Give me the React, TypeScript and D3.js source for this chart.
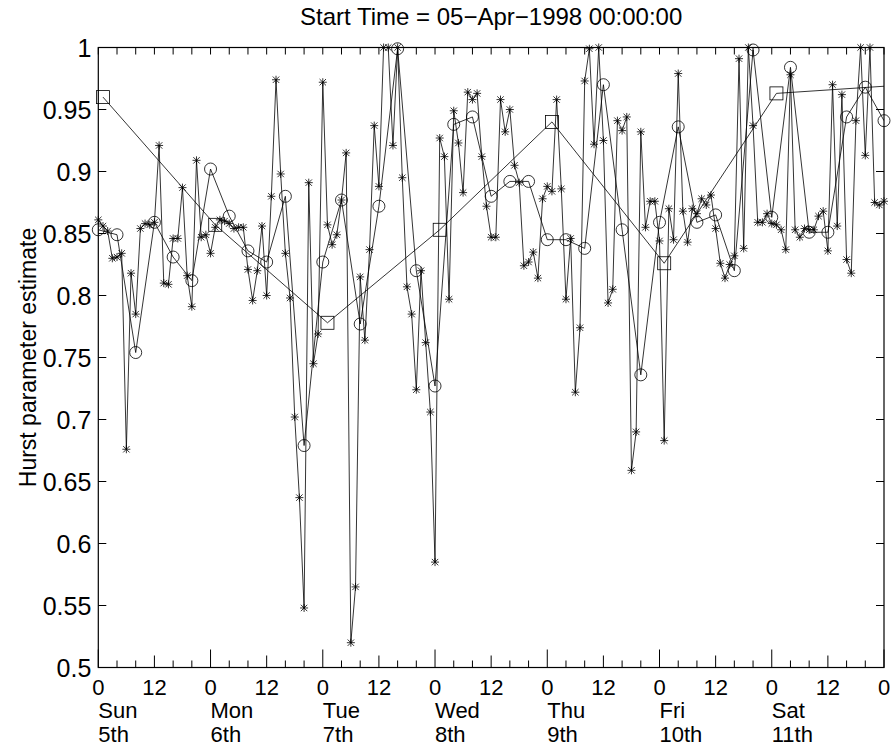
import React from 'react';
import * as d3 from 'd3';

// Hourly Hurst estimates (asterisks), hour 0 .. 168
const hourlyHurst = [
  0.861, 0.856, 0.852, 0.830, 0.831, 0.834, 0.676, 0.818, 0.785, 0.854,
  0.858, 0.857, 0.859, 0.921, 0.810, 0.809, 0.846, 0.846, 0.887, 0.816,
  0.791, 0.909, 0.847, 0.849, 0.834, 0.855, 0.861, 0.860, 0.858, 0.854,
  0.855, 0.855, 0.821, 0.796, 0.820, 0.856, 0.800, 0.880, 0.974, 0.898,
  0.834, 0.798, 0.702, 0.637, 0.548, 0.891, 0.745, 0.769, 0.972, 0.857,
  0.841, 0.849, 0.877, 0.915, 0.520, 0.565, 0.815, 0.764, 0.837, 0.937,
  0.888, 1.000, 1.000, 0.921, 1.000, 0.895, 0.807, 0.785, 0.724, 0.820,
  0.762, 0.706, 0.585, 0.927, 0.912, 0.797, 0.949, 0.923, 0.883, 0.964,
  0.958, 0.963, 0.912, 0.872, 0.847, 0.847, 0.958, 0.932, 0.950, 0.905,
  0.891, 0.824, 0.827, 0.835, 0.814, 0.878, 0.888, 0.884, 0.958, 0.886,
  0.797, 0.846, 0.722, 0.774, 0.973, 0.999, 0.922, 1.000, 0.925, 0.794,
  0.805, 0.941, 0.933, 0.944, 0.659, 0.690, 0.932, 0.855, 0.876, 0.876,
  0.844, 0.683, 0.870, 0.845, 0.979, 0.868, 0.843, 0.870, 0.866, 0.878,
  0.873, 0.881, 0.854, 0.826, 0.814, 0.825, 0.832, 0.991, 0.838, 1.000,
  0.937, 0.859, 0.859, 0.866, 0.858, 0.857, 0.853, 0.837, 0.978, 0.853,
  0.847, 0.854, 0.853, 0.853, 0.864, 0.868, 0.836, 0.970, 0.856, 0.962,
  0.829, 0.818, 0.941, 1.000, 0.913, 1.000, 0.875, 0.873, 0.876,
];
const hourlyStep = 1;

// 4-hour estimates (circles), hour 0, 4, ..., 168
const fourHourHurst = [
  0.853, 0.849, 0.754, 0.859, 0.831, 0.812, 0.902, 0.864, 0.836, 0.827,
  0.880, 0.679, 0.827, 0.877, 0.777, 0.872, 0.999, 0.820, 0.727, 0.938,
  0.944, 0.880, 0.892, 0.892, 0.845, 0.845, 0.838, 0.970, 0.853, 0.736,
  0.859, 0.936, 0.859, 0.865, 0.820, 0.998, 0.863, 0.984, 0.851, 0.851,
  0.944, 0.968, 0.941,
];
const fourHourStep = 4;

// Daily estimates (squares), hour 1, 25, ..., 169
const dailyHurst = [0.960, 0.857, 0.778, 0.853, 0.940, 0.826, 0.963, 0.969];
const dailyStart = 1;
const dailyStep = 24;

const yTicks = [0.5, 0.55, 0.6, 0.65, 0.7, 0.75, 0.8, 0.85, 0.9, 0.95, 1];
const yTickLabels = ['0.5', '0.55', '0.6', '0.65', '0.7', '0.75', '0.8', '0.85', '0.9', '0.95', '1'];
const dayNames = ['Sun', 'Mon', 'Tue', 'Wed', 'Thu', 'Fri', 'Sat'];
const dayDates = ['5th', '6th', '7th', '8th', '9th', '10th', '11th'];
const titleText = 'Start Time = 05\u2212Apr\u22121998 00:00:00';
const yLabelText = 'Hurst parameter estimate';

const W = 891;
const H = 746;
const left = 98.3;
const right = 884;
const top = 47.5;
const bottom = 667.5;
const FONT = '"Liberation Sans", Arial, Helvetica, sans-serif';

const x = d3.scaleLinear().domain([0, 168]).range([left, right]);
const y = d3.scaleLinear().domain([0.5, 1]).range([bottom, top]);

function starPath(cx: number, cy: number) {
  const s = 4;
  const d = 3.2;
  return `M${cx - s},${cy}H${cx + s}M${cx},${cy - s}V${cy + s}` +
    `M${cx - d},${cy - d}L${cx + d},${cy + d}M${cx - d},${cy + d}L${cx + d},${cy - d}`;
}

export default function App() {
  const hourly = hourlyHurst.map((v, i) => ({ h: i * hourlyStep, v }));
  const four = fourHourHurst.map((v, i) => ({ h: i * fourHourStep, v }));
  const daily = dailyHurst.map((v, i) => ({ h: dailyStart + i * dailyStep, v }));

  const line = d3.line<{ h: number; v: number }>().x((d) => x(d.h)).y((d) => y(d.v));
  const inDomain = (d: { h: number }) => d.h >= 0 && d.h <= 168;

  const xTicks4 = d3.range(0, 169, 4);
  const xTicks12 = d3.range(0, 169, 12);
  const stroke = '#000';
  const sw = 0.8;

  return (
    <svg width={W} height={H} style={{ position: 'absolute', left: 0, top: 0, background: '#fff' }}>
      <defs>
        <clipPath id="plotClip">
          <rect x={left} y={top} width={right - left} height={bottom - top} />
        </clipPath>
      </defs>
      <rect x={0} y={0} width={W} height={H} fill="#fff" />

      {/* series lines */}
      <g clipPath="url(#plotClip)" fill="none" stroke={stroke} strokeWidth={sw}>
        <path d={line(hourly) || ''} />
        <path d={line(four) || ''} />
        <path d={line(daily) || ''} />
      </g>

      {/* markers */}
      <g fill="none" stroke={stroke} strokeWidth={sw}>
        {hourly.filter(inDomain).map((d, i) => (
          <path key={'s' + i} d={starPath(x(d.h), y(d.v))} />
        ))}
        {four.filter(inDomain).map((d, i) => (
          <circle key={'c' + i} cx={x(d.h)} cy={y(d.v)} r={6} />
        ))}
        {daily.filter(inDomain).map((d, i) => (
          <rect key={'q' + i} x={x(d.h) - 6.5} y={y(d.v) - 6.5} width={13} height={13} />
        ))}
      </g>

      {/* axes box */}
      <rect x={left} y={top} width={right - left} height={bottom - top} fill="none" stroke="#000" strokeWidth={1.2} />

      {/* x ticks */}
      <g stroke="#000" strokeWidth={1}>
        {xTicks4.map((h) => {
          const len = h % 24 === 0 ? 18 : h % 12 === 0 ? 12 : 7;
          return <line key={'xb' + h} x1={x(h)} x2={x(h)} y1={bottom} y2={bottom - len} />;
        })}
        {xTicks4.map((h) => (
          <line key={'xt' + h} x1={x(h)} x2={x(h)} y1={top} y2={top + 7} />
        ))}
        {yTicks.map((t) => (
          <g key={'yt' + t}>
            <line x1={left} x2={left + 8} y1={y(t)} y2={y(t)} />
            <line x1={right} x2={right - 8} y1={y(t)} y2={y(t)} />
          </g>
        ))}
      </g>

      {/* y tick labels */}
      <g fontFamily={FONT} fontSize={25} fill="#000" textAnchor="end">
        {yTicks.map((t, i) => (
          <text key={'yl' + t} x={left - 7} y={y(t) + 9}>{yTickLabels[i]}</text>
        ))}
      </g>

      {/* x tick labels */}
      <g fontFamily={FONT} fontSize={22} fill="#000">
        {xTicks12.map((h) => (
          <text key={'xl' + h} x={x(h)} y={695} textAnchor="middle">{h % 24 === 0 ? '0' : '12'}</text>
        ))}
        {dayNames.map((n, i) => (
          <text key={'dn' + i} x={x(i * 24)} y={718}>{n}</text>
        ))}
        {dayDates.map((n, i) => (
          <text key={'dd' + i} x={x(i * 24)} y={742}>{n}</text>
        ))}
      </g>

      {/* title */}
      <text x={(left + right) / 2} y={25} textAnchor="middle" fontFamily={FONT} fontSize={24} fill="#000">
        {titleText}
      </text>

      {/* y label */}
      <text
        transform={`translate(36, ${(top + bottom) / 2}) rotate(-90)`}
        textAnchor="middle"
        fontFamily={FONT}
        fontSize={23}
        fill="#000"
      >
        {yLabelText}
      </text>
    </svg>
  );
}
